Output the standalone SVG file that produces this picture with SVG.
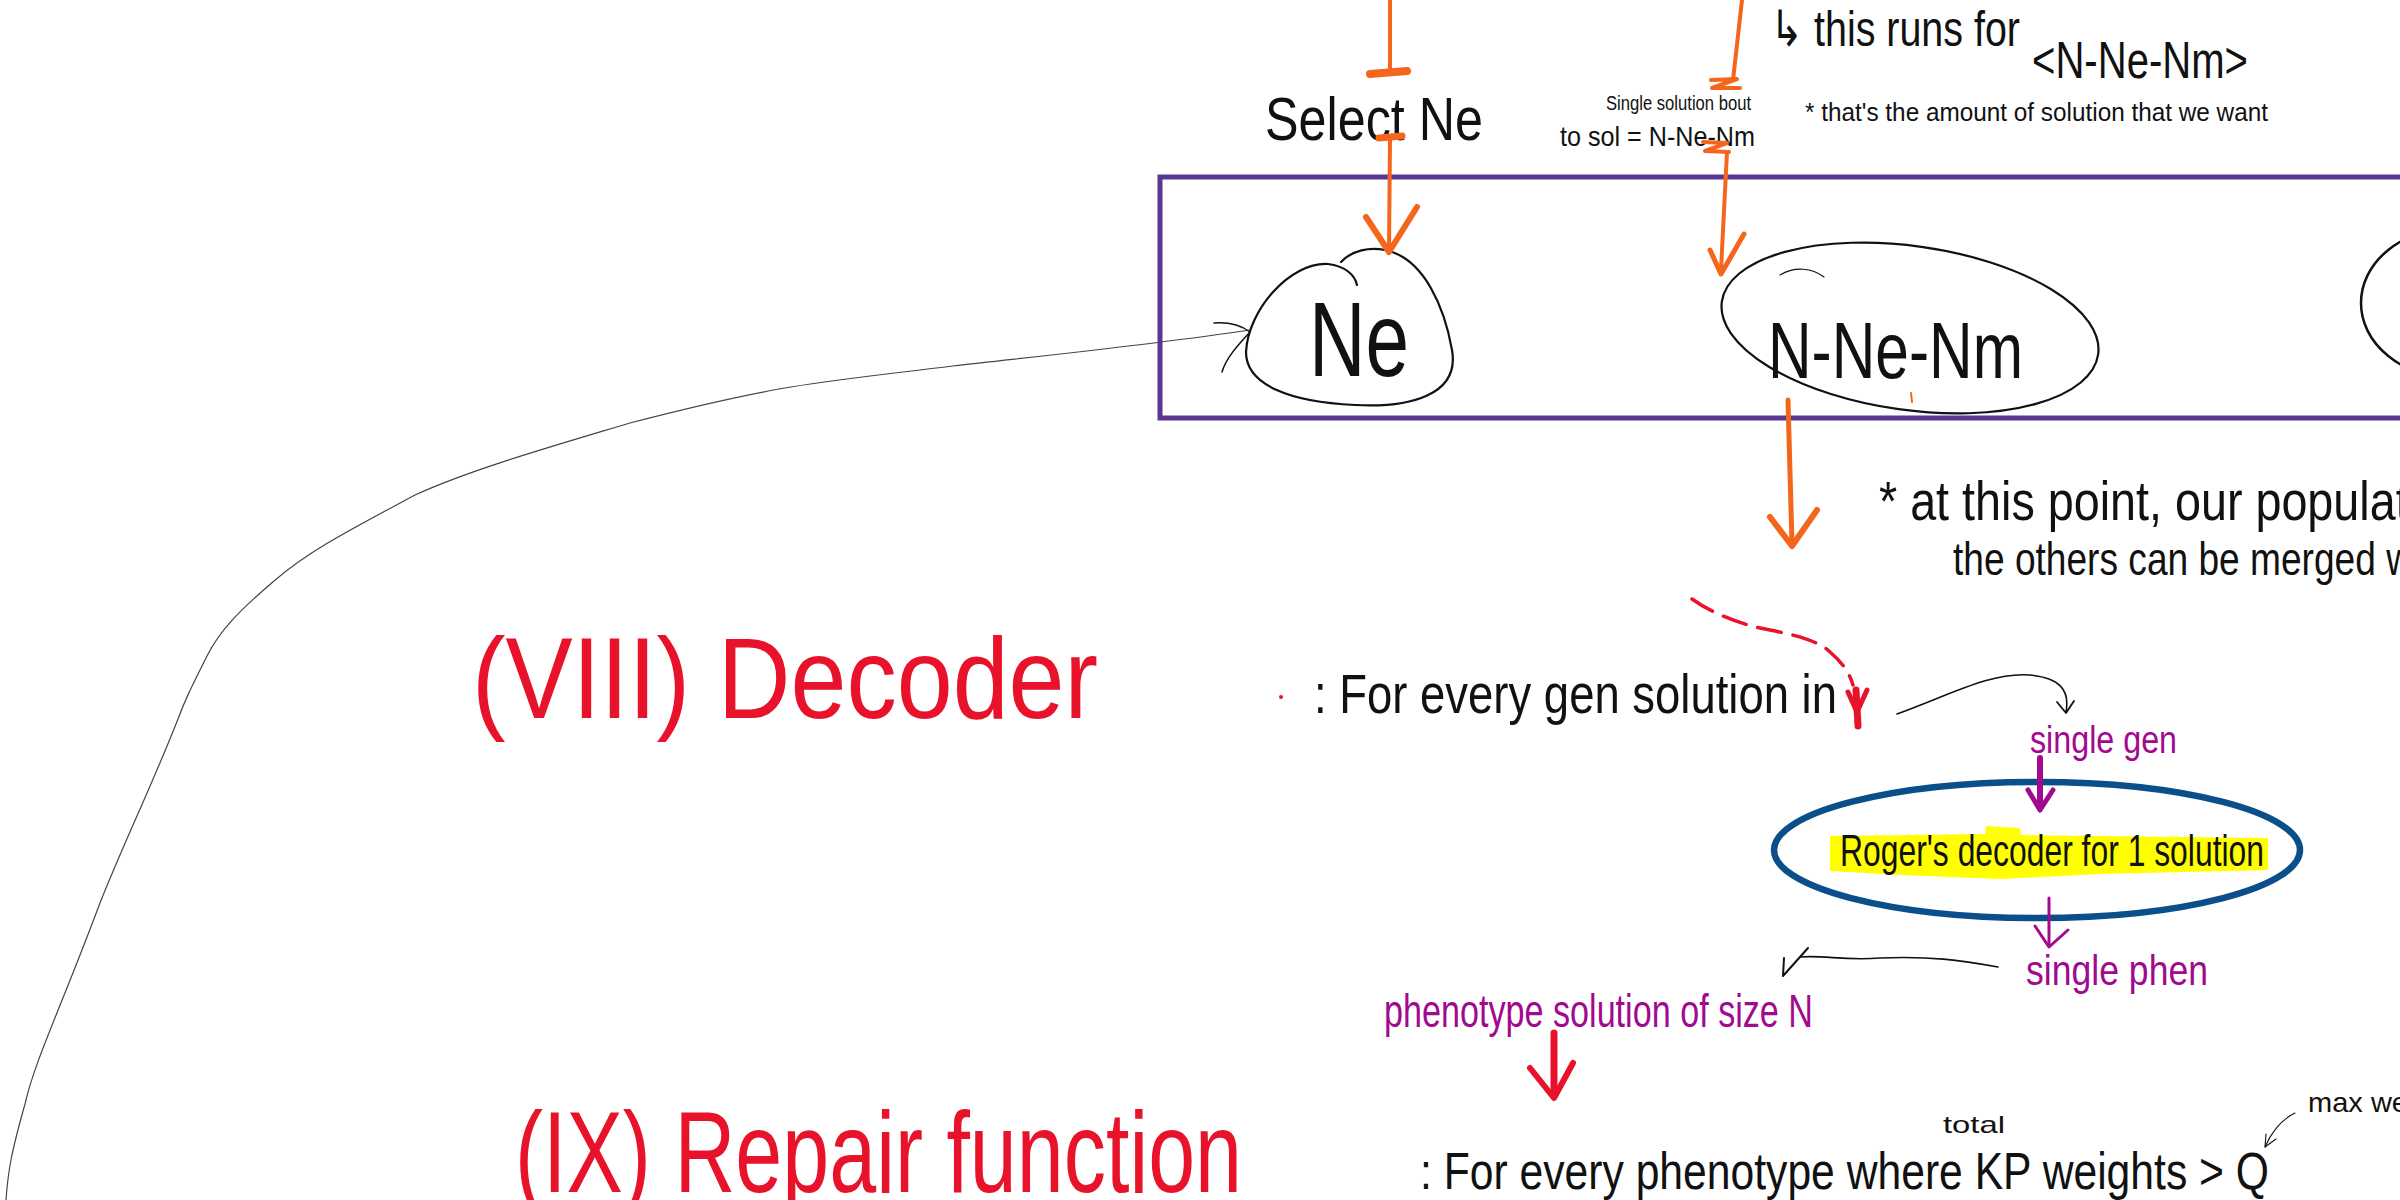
<svg xmlns="http://www.w3.org/2000/svg" width="2400" height="1200" viewBox="0 0 2400 1200">
<style>
text { font-family: "Liberation Sans", "DejaVu Sans", sans-serif; }
.ink { fill: #111; }
.red { fill: #e8132a; }
.mag { fill: #a1098e; }
.orange { stroke: #f4661b; fill: none; stroke-linecap: round; stroke-linejoin: round; }
.pen { stroke: #111; fill: none; stroke-linecap: round; stroke-linejoin: round; }
.redline { stroke: #e8132a; fill: none; stroke-linecap: round; stroke-linejoin: round; }
.magline { stroke: #a1098e; fill: none; stroke-linecap: round; stroke-linejoin: round; }
</style>
<rect x="0" y="0" width="2400" height="1200" fill="#ffffff"/>

<!-- population frame -->
<g id="population-frame">
  <rect x="1160" y="177" width="1300" height="241" fill="none" stroke="#5b3592" stroke-width="5"/>
</g>

<!-- nodes -->
<g id="node-ne">
  <path class="pen" stroke-width="2.2" d="M 1341,262 C 1352,250 1370,247 1385,250 C 1425,258 1445,310 1452,350 C 1460,395 1410,408 1355,405 C 1290,402 1246,385 1246,352 C 1248,310 1290,262 1328,264 C 1345,266 1355,275 1357,285"/>
  <text class="ink" x="1309" y="376" font-size="105" textLength="100" lengthAdjust="spacingAndGlyphs">Ne</text>
</g>
<g id="node-n-ne-nm">
  <ellipse cx="1910" cy="328" rx="190" ry="82" transform="rotate(8 1910 328)" fill="none" stroke="#111" stroke-width="2.2"/>
  <path class="pen" stroke-width="1.2" d="M 1780,275 C 1795,266 1812,268 1824,277"/>
  <text class="ink" x="1768" y="378" font-size="80" textLength="255" lengthAdjust="spacingAndGlyphs">N-Ne-Nm</text>
</g>
<g id="node-right">
  <ellipse cx="2454" cy="303" rx="93" ry="75" fill="none" stroke="#111" stroke-width="2.5"/>
</g>
<g id="node-rogers-decoder">
  <path fill="#ffff00" d="M 1830,836 L 1985,834 L 1986,826 L 2020,828 L 2021,835 L 2268,838 L 2268,870 L 2100,874 L 2000,879 L 1900,875 L 1830,871 Z"/>
  <ellipse cx="2037" cy="850" rx="263" ry="68" fill="none" stroke="#0b4f8a" stroke-width="6.5"/>
  <text class="ink" x="1840" y="866" font-size="44" textLength="424" lengthAdjust="spacingAndGlyphs">Roger's decoder for 1 solution</text>
</g>

<!-- labels -->
<g id="label-select-ne">
  <text class="ink" x="1265" y="140" font-size="62" textLength="218" lengthAdjust="spacingAndGlyphs">Select Ne</text>
</g>
<g id="label-single-solution">
  <text class="ink" x="1606" y="110" font-size="20" textLength="145" lengthAdjust="spacingAndGlyphs">Single solution bout</text>
  <text class="ink" x="1560" y="146" font-size="28" textLength="195" lengthAdjust="spacingAndGlyphs">to sol = N-Ne-Nm</text>
</g>
<g id="label-runs-for">
  <text class="ink" x="1770" y="46" font-size="50" textLength="250" lengthAdjust="spacingAndGlyphs">↳ this runs for</text>
  <text class="ink" x="2032" y="78" font-size="52" textLength="216" lengthAdjust="spacingAndGlyphs">&lt;N-Ne-Nm&gt;</text>
  <text class="ink" x="1805" y="121" font-size="26" textLength="463" lengthAdjust="spacingAndGlyphs">* that's the amount of solution that we want</text>
</g>
<g id="label-population-note">
  <text class="ink" x="1879" y="520" font-size="56" textLength="540" lengthAdjust="spacingAndGlyphs">* at this point, our populati</text>
  <text class="ink" x="1953" y="575" font-size="46" textLength="460" lengthAdjust="spacingAndGlyphs">the others can be merged w</text>
</g>
<g id="label-decoder">
  <text class="red" x="472" y="718" font-size="115" textLength="626" lengthAdjust="spacingAndGlyphs">(VIII) Decoder</text>
  <circle cx="1281" cy="697" r="2" fill="#e8132a"/>
  <text class="ink" x="1314" y="713" font-size="56" textLength="523" lengthAdjust="spacingAndGlyphs">: For every gen solution in</text>
</g>
<g id="label-single-gen">
  <text class="mag" x="2030" y="753" font-size="38" textLength="147" lengthAdjust="spacingAndGlyphs">single gen</text>
</g>
<g id="label-single-phen">
  <text class="mag" x="2026" y="985" font-size="42" textLength="182" lengthAdjust="spacingAndGlyphs">single phen</text>
</g>
<g id="label-phenotype">
  <text class="mag" x="1384" y="1027" font-size="46" textLength="429" lengthAdjust="spacingAndGlyphs">phenotype solution of size N</text>
</g>
<g id="label-repair">
  <text class="red" x="515" y="1192" font-size="115" textLength="727" lengthAdjust="spacingAndGlyphs">(IX) Repair function</text>
  <text class="ink" x="1420" y="1189" font-size="52" textLength="849" lengthAdjust="spacingAndGlyphs">: For every phenotype where KP weights &gt; Q</text>
  <text class="ink" x="1943" y="1133" font-size="24" textLength="62" lengthAdjust="spacingAndGlyphs">total</text>
  <text class="ink" x="2308" y="1112" font-size="28" textLength="100" lengthAdjust="spacingAndGlyphs">max we</text>
</g>

<!-- connectors -->
<g id="connectors">
  <!-- orange: select Ne -->
  <path class="orange" stroke-width="4" d="M 1390,0 L 1390,72"/>
  <path class="orange" stroke-width="8" d="M 1370,74 L 1407,71"/>
  <path class="orange" stroke-width="7" d="M 1379,138 L 1402,136"/>
  <path class="orange" stroke-width="4" d="M 1390,138 L 1389,250"/>
  <path class="orange" stroke-width="6" d="M 1366,217 L 1389,252 L 1417,207"/>
  <!-- orange: N-Ne-Nm -->
  <path class="orange" stroke-width="4" d="M 1742,0 L 1733,80"/>
  <path class="orange" stroke-width="4" d="M 1711,80 L 1737,79 L 1712,88 L 1740,88"/>
  <path class="orange" stroke-width="4" d="M 1703,142 L 1727,143 L 1705,151 L 1729,152"/>
  <path class="orange" stroke-width="4" d="M 1727,152 L 1721,270"/>
  <path class="orange" stroke-width="5" d="M 1710,250 L 1721,274 L 1744,234"/>
  <!-- orange: out of frame -->
  <path class="orange" stroke-width="2" d="M 1911,393 L 1912,402"/>
  <path class="orange" stroke-width="5" d="M 1788,400 L 1792,544"/>
  <path class="orange" stroke-width="6" d="M 1770,517 L 1792,546 L 1817,510"/>
  <!-- grey return curve into Ne -->
  <path fill="none" stroke="#444" stroke-width="1.2" d="M 1250,330 C 1150,345 1050,355 953,366 C 880,375 830,380 779,389 C 720,400 680,410 630,423 C 540,450 470,470 415,495 C 350,530 310,550 274,581 C 240,610 220,630 207,656 C 190,690 185,700 178,719 C 150,790 125,840 100,903 C 60,1010 35,1060 25,1104 C 12,1150 8,1170 6,1200"/>
  <path class="pen" stroke-width="1.5" d="M 1214,323 C 1230,322 1242,326 1250,332 C 1238,345 1226,358 1222,372"/>
  <!-- red dashed curve -->
  <path class="redline" stroke-width="3.5" stroke-dasharray="24 12" d="M 1692,599 C 1710,612 1740,625 1770,630 C 1800,636 1820,642 1830,652 C 1845,665 1850,675 1853,685"/>
  <path class="redline" stroke-width="7" d="M 1856,690 L 1858,726"/>
  <path class="redline" stroke-width="5" d="M 1848,692 L 1857,712 L 1867,690"/>
  <!-- black arrow to single gen -->
  <path class="pen" stroke-width="1.6" d="M 1897,714 C 1950,695 1990,672 2030,675 C 2060,678 2070,690 2066,712"/>
  <path class="pen" stroke-width="1.8" d="M 2057,702 L 2066,713 L 2074,701"/>
  <!-- magenta into decoder -->
  <path class="magline" stroke-width="6" d="M 2040,758 L 2040,806"/>
  <path class="magline" stroke-width="5" d="M 2028,790 L 2040,810 L 2053,790"/>
  <!-- magenta out of decoder -->
  <path class="magline" stroke-width="3" d="M 2049,898 L 2049,945"/>
  <path class="magline" stroke-width="3" d="M 2035,926 L 2049,947 L 2068,930"/>
  <!-- black arrow single phen to phenotype -->
  <path class="pen" stroke-width="1.6" d="M 1998,967 C 1960,960 1930,956 1880,958 C 1845,961 1825,955 1800,957"/>
  <path class="pen" stroke-width="2" d="M 1784,958 L 1783,976 L 1808,948"/>
  <!-- red arrow into repair -->
  <path class="redline" stroke-width="7" d="M 1554,1033 L 1554,1095"/>
  <path class="redline" stroke-width="6" d="M 1530,1068 L 1554,1098 L 1573,1063"/>
  <!-- max we arrow -->
  <path class="pen" stroke-width="1.1" d="M 2295,1113 C 2280,1120 2270,1135 2265,1147"/>
  <path class="pen" stroke-width="1.1" d="M 2266,1134 L 2265,1147 L 2276,1139"/>
</g>
</svg>
